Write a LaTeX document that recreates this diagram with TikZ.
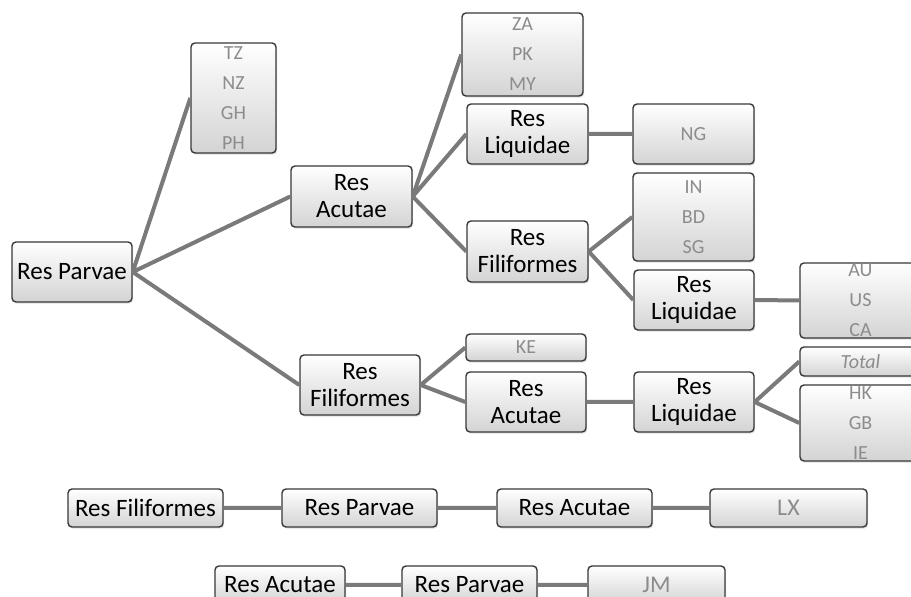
\documentclass[tikz,border=0pt]{standalone}
\usepackage{fontspec}
\setmainfont{Carlito}
\usetikzlibrary{shadows}

\begin{document}
\begin{tikzpicture}[x = 0.5pt, y = -0.5pt,
	box/.style = {draw = black!78, line width = 0.7pt, rounded corners = 2pt,
		top color = white, bottom color = black!17, inner sep = 0pt, align = center,
		font = \fontsize{12.5}{13.5}\selectfont,
		drop shadow = {opacity = 0.25, shadow xshift = 0.6pt, shadow yshift = -0.8pt}},
	tag/.style = {box, text = black!45, font = \fontsize{10}{15}\selectfont},
	wire/.style = {draw = black!52, line width = 2pt}]

	\useasboundingbox (0,0) rectangle (911,597);
	\clip (0,0) rectangle (911,597);

	\node[box, minimum width = 60pt, minimum height = 30pt] (parvae) at (72,272) {Res Parvae};
	\node[tag, minimum width = 42.5pt, minimum height = 55pt] (tagTZ) at (233.5,98) {TZ\\NZ\\GH\\PH};
	\node[box, minimum width = 60.5pt, minimum height = 30.5pt] (acutaeA) at (351.5,196.5) {Res\\Acutae};
	\node[tag, minimum width = 60.5pt, minimum height = 41.5pt] (tagZA) at (522.5,54.5) {ZA\\PK\\MY};
	\node[box, minimum width = 60.5pt, minimum height = 30pt] (liquidaeA) at (527.5,134) {Res\\Liquidae};
	\node[tag, minimum width = 60.5pt, minimum height = 30pt] (tagNG) at (693.5,134) {NG};
	\node[tag, minimum width = 60.5pt, minimum height = 44pt] (tagIN) at (693.5,217) {IN\\BD\\SG};
	\node[box, minimum width = 60.5pt, minimum height = 30.5pt] (filiformesA) at (527.5,251.5) {Res\\Filiformes};
	\node[box, minimum width = 60pt, minimum height = 30pt] (liquidaeB) at (694,300) {Res\\Liquidae};
	\node[tag, minimum width = 60.5pt, minimum height = 37.5pt] (tagAU) at (860.5,300.5) {AU\\US\\CA};

	\node[box, minimum width = 60pt, minimum height = 30pt] (filiformesB) at (360,385) {Res\\Filiformes};
	\node[tag, minimum width = 60pt, minimum height = 13.5pt] (tagKE) at (526,347.5) {KE};
	\node[box, minimum width = 60pt, minimum height = 30pt] (acutaeB) at (526,402) {Res\\Acutae};
	\node[box, minimum width = 60pt, minimum height = 30pt] (liquidaeC) at (694,402) {Res\\Liquidae};
	\node[tag, minimum width = 60.5pt, minimum height = 14.5pt] (tagTotal) at (860.5,361.5) {\itshape Total};
	\node[tag, minimum width = 60.5pt, minimum height = 38pt] (tagHK) at (860.5,423) {HK\\GB\\IE};

	\node[box, minimum width = 77.5pt, minimum height = 19pt] (filiformesC) at (145.5,508) {Res Filiformes};
	\node[box, minimum width = 77.5pt, minimum height = 19pt] (parvaeB) at (359.5,508) {Res Parvae};
	\node[box, minimum width = 77.5pt, minimum height = 19pt] (acutaeC) at (574.5,508) {Res Acutae};
	\node[tag, minimum width = 78.5pt, minimum height = 19pt, font = \fontsize{12}{13}\selectfont] (tagLX) at (788.5,508) {LX};

	\node[box, minimum width = 65pt, minimum height = 19pt] (acutaeD) at (280,585) {Res Acutae};
	\node[box, minimum width = 67.5pt, minimum height = 19pt] (parvaeC) at (469.5,585) {Res Parvae};
	\node[tag, minimum width = 68.5pt, minimum height = 19pt, font = \fontsize{12}{13}\selectfont] (tagJM) at (656.5,585) {JM};

	\draw[wire]
	(parvae.east) -- (tagTZ.west)
	(parvae.east) -- (acutaeA.west)
	(parvae.east) -- (filiformesB.west)
	(acutaeA.east) -- (tagZA.west)
	(acutaeA.east) -- (liquidaeA.west)
	(acutaeA.east) -- (filiformesA.west)
	(liquidaeA.east) -- (tagNG.west)
	(filiformesA.east) -- (tagIN.west)
	(filiformesA.east) -- (liquidaeB.west)
	(liquidaeB.east) -- (tagAU.west)
	(filiformesB.east) -- (tagKE.west)
	(filiformesB.east) -- (acutaeB.west)
	(acutaeB.east) -- (liquidaeC.west)
	(liquidaeC.east) -- (tagTotal.west)
	(liquidaeC.east) -- (tagHK.west)
	(filiformesC) -- (parvaeB) -- (acutaeC) -- (tagLX)
	(acutaeD) -- (parvaeC) -- (tagJM);
\end{tikzpicture}
\end{document}
